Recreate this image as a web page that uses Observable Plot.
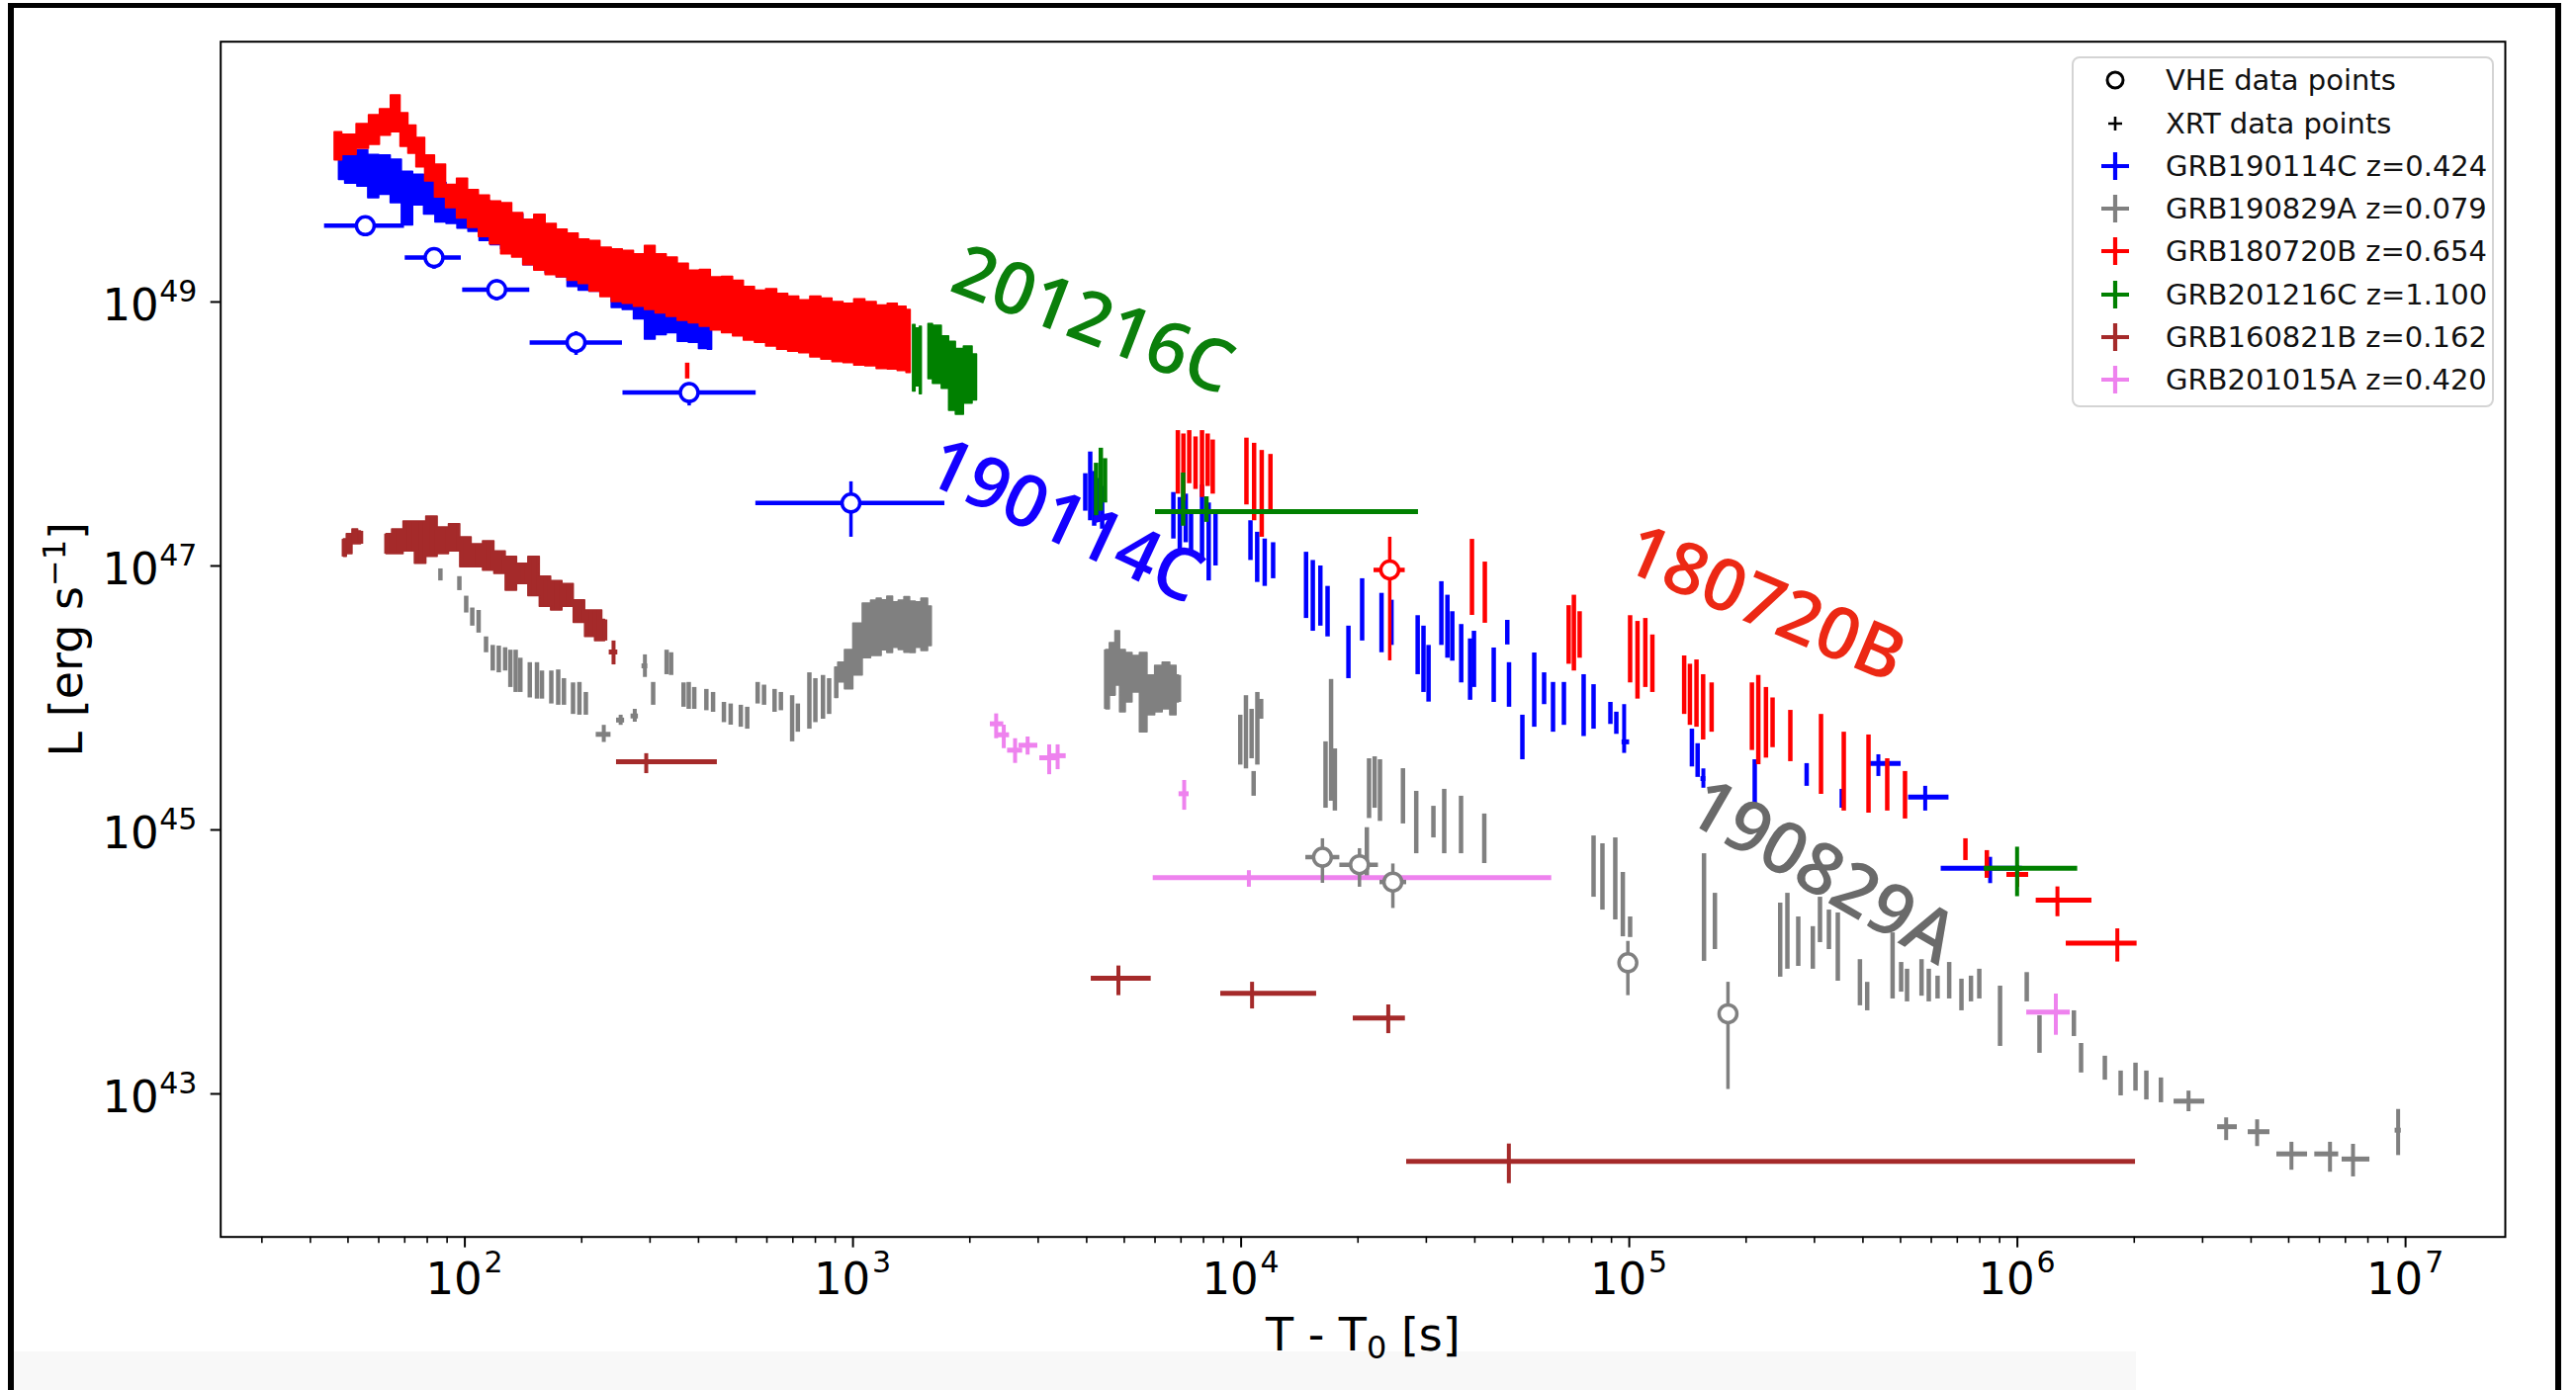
<!DOCTYPE html>
<html>
<head>
<meta charset="utf-8">
<script src="https://cdn.jsdelivr.net/npm/d3@7"></script>
<script src="https://cdn.jsdelivr.net/npm/@observablehq/plot@0.6"></script>
<style>
  html, body { margin: 0; padding: 0; background: #fff; }
  #page { position: relative; width: 2605px; height: 1406px; overflow: hidden; background: #fff; }
  #page svg { position: absolute; left: 0; top: 0; }
  #sheet { position: absolute; left: 8px; top: 3px; width: 2582px; height: 1403px; box-sizing: border-box;
           border-top: 5px solid #000; border-left: 6px solid #000; border-right: 6px solid #000; pointer-events: none; }
  #strip { position: absolute; left: 14px; top: 1367px; width: 2146px; height: 39px; background: #f8f8f8; }
  #legend { position: absolute; left: 2095px; top: 57px; width: 427px; height: 355px; box-sizing: border-box;
            border: 2px solid #d4d4d4; border-radius: 8px; background: rgba(255,255,255,0.85);
            font-family: "DejaVu Sans", sans-serif; font-size: 29px; color: #111; }
  #legend .row { position: absolute; left: 0; height: 40px; width: 100%; }
  #legend .row svg { position: absolute; left: 22px; top: 0; }
  #legend .row span { position: absolute; left: 93px; top: 3px; white-space: nowrap; }
</style>
</head>
<body>
<div id="page">
  <div id="strip"></div>
  <div id="sheet"></div>
</div>
<script>
// ---------- axes ----------
const xTickExponents = [2, 3, 4, 5, 6, 7];      // labelled decades of T - T0 [s]
const yTickExponents = [43, 45, 47, 49];        // labelled decades of L [erg/s]

// ---------- GRB190114C (z = 0.424) ----------
const grb190114C_vhe = [ // t, tLo, tHi, L, LLo, LHi
  [55.4, 43.5, 69.9, 3.78e49, 3.45e49, 4.15e49],
  [83.3, 70.2, 97.9, 2.17e49, 1.77e49, 2.5e49],
  [120.8, 98.7, 147, 1.24e49, 1.02e49, 1.47e49],
  [193.4, 147.3, 254.7, 4.93e48, 3.94e48, 5.96e48],
  [378.4, 255.5, 563, 2.06e48, 1.63e48, 2.44e48],
  [988, 562, 1725, 3.0e47, 1.65e47, 4.34e47]
];
const grb190114C_early = [ // t, LLo, LHi
  [47.4, 8.4e49, 1.37e50], [51, 7.9e49, 1.3e50], [54.8, 7.5e49, 1.41e50], [58, 6.1e49, 1.3e50],
  [62.4, 6.5e49, 1.29e50], [66.5, 5.6e49, 1.2e50], [71.2, 3.8e49, 9.7e49], [76, 5.4e49, 9.2e49],
  [81.1, 4.6e49, 8.6e49], [87, 4.0e49, 8.0e49], [92.5, 3.9e49, 7.3e49], [99, 3.6e49, 6.9e49],
  [105.4, 3.4e49, 6.1e49], [113, 2.9e49, 5.8e49], [120.2, 2.7e49, 5.2e49], [128, 2.5e49, 4.8e49],
  [137, 2.3e49, 4.6e49], [146, 1.9e49, 4.2e49], [156.1, 1.8e49, 3.65e49], [167, 1.65e49, 3.3e49],
  [178, 1.54e49, 2.9e49], [190, 1.3e49, 2.6e49], [203, 1.22e49, 2.3e49], [216, 1.2e49, 2.2e49],
  [231.3, 1.15e49, 1.94e49], [247, 9.0e48, 1.75e49], [263.6, 8.7e48, 1.54e49], [282, 7.4e48, 1.4e49],
  [300.4, 5.2e48, 1.3e49], [320, 5.6e48, 1.25e49], [342.6, 5.8e48, 1.15e49], [365, 5.0e48, 1.05e49],
  [390.5, 4.9e48, 9.7e48], [412, 4.4e48, 9.0e48], [433.5, 4.35e48, 8.2e48]
];
const grb190114C_xrt = [ // t, LLo, LHi
  [3967, 2.6e47, 5.0e47], [4085, 2.2e47, 7.3e47], [4182, 2.0e47, 5.2e47], [4282, 2.2e47, 4.6e47], [4385, 1.9e47, 4.0e47],
  [6690, 1.6e47, 3.6e47], [6950, 1.3e47, 3.3e47], [7200, 1.5e47, 3.5e47], [7430, 1.3e47, 2.6e47],
  [7930, 1.1e47, 4.1e47], [8250, 7.7e46, 3.0e47], [8590, 1.0e47, 2.6e47],
  [10570, 1.1e47, 2.2e47], [11000, 7.5e46, 1.8e47], [11500, 7.0e46, 1.6e47], [12090, 8.0e46, 1.5e47],
  [14700, 4.0e46, 1.27e47], [15300, 3.2e46, 1.1e47], [16000, 3.5e46, 1.0e47], [16700, 2.9e46, 7.0e46],
  [18900, 1.4e46, 3.5e46], [20500, 2.7e46, 8.0e46],
  [23000, 2.2e46, 6.2e46], [24400, 2.5e46, 5.5e46],
  [28500, 1.5e46, 4.2e46], [29500, 1.1e46, 3.5e46], [30400, 9.3e45, 2.5e46],
  [32800, 2.5e46, 7.6e46], [34000, 2.0e46, 6.0e46], [35000, 1.9e46, 4.5e46],
  [36900, 1.3e46, 3.6e46], [38900, 9.6e45, 2.8e46], [39800, 1.2e46, 3.2e46],
  [44750, 9.25e45, 2.39e46], [48500, 2.52e46, 3.87e46], [49000, 8.5e45, 1.85e46],
  [53040, 3.4e45, 7.4e45], [56910, 6.0e45, 2.19e46], [60340, 8.9e45, 1.55e46],
  [63620, 5.5e45, 1.31e46], [67860, 6.2e45, 1.31e46], [76290, 5.1e45, 1.5e46],
  [80910, 5.8e45, 1.26e46], [89410, 6.3e45, 9.25e45], [92610, 5.3e45, 7.8e45],
  [145000, 3.0e45, 5.8e45], [150000, 2.5e45, 4.5e45],
  [210500, 1.46e45, 3.4e45], [286400, 2.14e45, 3.18e45], [352800, 1.46e45, 2.03e45]
];
const grb190114C_binned = [ // t, tLo, tHi, L, LLo, LHi
  [97000, 95800, 100200, 4.65e45, 3.8e45, 8.9e45],
  [155200, 153000, 157500, 2.45e45, 2.07e45, 2.9e45],
  [438300, 412900, 501700, 3.19e45, 2.54e45, 3.71e45],
  [578700, 524400, 666400, 1.77e45, 1.39e45, 2.14e45],
  [850700, 636300, 1.03e6, 5.13e44, 3.92e44, 6.2e44]
];

// ---------- GRB190829A (z = 0.079) ----------
const grb190829A_vhe = [ // t, tLo, tHi, L, LLo, LHi
  [16200, 14680, 17960, 6.21e44, 3.94e44, 8.57e44],
  [20180, 17960, 22580, 5.45e44, 3.68e44, 7.21e44],
  [24600, 22790, 26700, 4.03e44, 2.54e44, 5.52e44],
  [99170, 96400, 102100, 9.86e43, 5.55e43, 1.43e44],
  [179600, 175000, 184000, 4.05e43, 1.08e43, 7.01e43]
];
const grb190829A_rise = [ // t, LLo, LHi
  [900, 1.0e46, 1.7e46], [933, 1.31e46, 1.85e46], [974.5, 1.16e46, 2.31e46], [1030, 1.48e46, 3.66e46],
  [1090, 2.0e46, 5.2e46], [1137, 2.08e46, 5.47e46], [1166, 2.08e46, 5.66e46], [1205, 2.3e46, 5.5e46],
  [1247, 2.19e46, 5.86e46], [1290, 2.4e46, 5.3e46], [1334, 2.31e46, 5.47e46], [1380, 2.2e46, 5.8e46],
  [1427, 2.19e46, 5.37e46], [1475, 2.4e46, 5.3e46], [1527, 2.27e46, 5.66e46], [1596, 2.47e46, 4.93e46]
];
const grb190829A_orbit2 = [ // t, LLo, LHi
  [4490, 8.2e45, 2.31e46], [4692, 1.04e46, 2.6e46], [4797, 1.24e46, 3.2e46], [4957, 7.8e45, 2.31e46],
  [5135, 9.25e45, 2.19e46], [5366, 1.1e46, 2.08e46], [5608, 5.5e45, 2.19e46], [5871, 7.4e45, 1.48e46],
  [6142, 7.8e45, 1.75e46], [6418, 8.2e45, 1.85e46], [6719, 7.4e45, 1.75e46], [6915, 9.25e45, 1.48e46]
];
const grb190829A_xrt = [ // t, LLo, LHi
  [82.1, 1.17e47, 2.37e47], [86.5, 7.7e46, 9.5e46], [96.8, 6.5e46, 8.3e46], [100.8, 4.4e46, 5.9e46],
  [104.5, 3.5e46, 4.8e46], [108.5, 3.1e46, 4.6e46], [113.4, 2.2e46, 2.9e46],
  [118, 1.6e46, 2.5e46], [122.3, 1.55e46, 2.47e46], [127, 1.6e46, 2.4e46],
  [131, 1.2e46, 2.3e46], [135.2, 1.1e46, 2.3e46], [139, 1.1e46, 2.0e46],
  [147, 1.0e46, 1.85e46], [153.4, 9.8e45, 1.85e46], [158, 9.8e45, 1.6e46],
  [167, 9.0e45, 1.6e46], [174, 8.8e45, 1.63e46], [180, 8.8e45, 1.4e46],
  [190, 7.5e45, 1.3e46], [197.3, 7.4e45, 1.31e46], [205, 7.4e45, 1.1e46],
  [305.6, 8.8e45, 1.31e46], [331, 1.5e46, 2.3e46], [340, 1.48e46, 2.2e46],
  [366, 8.5e45, 1.3e46], [377.4, 8.2e45, 1.31e46], [390, 8.2e45, 1.2e46],
  [419, 8.0e45, 1.16e46], [436, 7.78e45, 1.1e46], [465, 6.5e45, 9.25e45], [484, 6.22e45, 9.0e45],
  [514, 6.0e45, 8.8e45], [534, 5.8e45, 8.5e45], [568, 9.0e45, 1.31e46], [590, 8.8e45, 1.25e46],
  [628, 7.78e45, 1.16e46], [652, 8.0e45, 1.1e46], [697, 4.65e45, 1.04e46], [721, 5.5e45, 9.0e45],
  [772, 5.8e45, 1.55e46], [800, 6.5e45, 1.4e46], [837, 6.9e45, 1.48e46], [868, 7.5e45, 1.4e46],
  [9950, 3.1e45, 7.4e45], [10290, 2.9e45, 1.04e46], [10640, 3.46e45, 8.2e45], [10770, 1.8e45, 2.77e45],
  [11010, 3.1e45, 1.1e46], [11260, 6.9e45, 9.75e45],
  [16500, 1.46e45, 4.65e45], [17050, 1.65e45, 1.38e46], [17440, 1.39e45, 4.11e45],
  [21080, 4.37e44, 1.04e45], [21360, 1.22e45, 3.46e45], [22080, 1.46e45, 3.58e45], [22790, 1.16e45, 3.4e45],
  [26120, 1.11e45, 2.91e45], [28260, 6.6e44, 1.96e45], [31290, 8.7e44, 1.51e45],
  [33360, 6.6e44, 2.03e45], [36860, 6.6e44, 1.8e45], [42310, 5.56e44, 1.32e45],
  [80910, 3.09e44, 9.0e44], [85290, 2.47e44, 7.85e44], [92040, 2.08e44, 8.7e44],
  [96250, 1.55e44, 4.76e44], [100500, 1.53e44, 2.19e44],
  [155800, 1.01e44, 6.6e44], [166200, 1.24e44, 3.31e44],
  [244800, 7.66e43, 2.79e44], [255500, 8.8e43, 3.31e44], [272500, 9.25e43, 2.19e44], [297100, 8.8e43, 1.85e44],
  [310000, 1.4e44, 3.09e44], [326900, 1.24e44, 2.47e44], [344600, 7.14e43, 2.35e44],
  [392900, 4.65e43, 1.04e44], [410200, 4.26e43, 7.0e43],
  [476900, 5.24e43, 1.66e44], [501700, 5.9e43, 9.9e43], [519600, 4.98e43, 8.8e43], [566300, 5.5e43, 1.04e44],
  [591100, 4.98e43, 8.8e43], [622800, 5.24e43, 7.8e43], [667200, 5.24e43, 9.9e43], [717500, 4.26e43, 7.4e43],
  [759200, 4.98e43, 7.8e43], [797600, 5.24e43, 8.8e43], [902200, 2.29e43, 6.55e43],
  [1.057e6, 4.98e43, 8.3e43], [1.14e6, 2.03e43, 3.91e43], [1.398e6, 2.72e43, 4.26e43], [1.459e6, 1.44e43, 2.41e43],
  [1.68e6, 1.27e43, 1.93e43], [1.845e6, 9.66e42, 1.49e43], [2.015e6, 1.05e43, 1.71e43],
  [2.149e6, 9.0e42, 1.49e43], [2.343e6, 8.57e42, 1.32e43]
];
const grb190829A_binned = [ // t, tLo, tHi, L, LLo, LHi
  [228, 218, 238, 5.3e45, 4.6e45, 6.2e45],
  [252, 246, 258, 6.8e45, 6.2e45, 7.4e45],
  [274, 268, 280, 7.3e45, 6.55e45, 8.2e45],
  [291, 286, 296, 1.75e46, 1.43e46, 2.12e46],
  [2.76e6, 2.533e6, 3.039e6, 8.81e42, 7.33e42, 1.05e43],
  [3.45e6, 3.28e6, 3.686e6, 5.64e42, 4.43e42, 6.58e42],
  [4.146e6, 3.932e6, 4.474e6, 5.17e42, 3.99e42, 6.36e42],
  [5.082e6, 4.661e6, 5.592e6, 3.51e42, 2.64e42, 4.3e42],
  [6.388e6, 5.836e6, 6.726e6, 3.51e42, 2.55e42, 4.3e42],
  [7.323e6, 6.865e6, 8.093e6, 3.21e42, 2.35e42, 4.15e42],
  [9.57e6, 9.4e6, 9.75e6, 5.31e42, 3.41e42, 7.62e42]
];

// ---------- GRB180720B (z = 0.654) ----------
const grb180720B_vhe = [ // t, tLo, tHi, L, LLo, LHi
  [24150, 22000, 26470, 9.33e46, 1.91e46, 1.65e47]
];
const grb180720B_early = [ // t, LLo, LHi
  [46.2, 1.18e50, 1.93e50], [50.5, 1.3e50, 1.85e50], [54.8, 1.45e50, 2.23e50], [58.5, 1.55e50, 2.6e50],
  [62.4, 1.82e50, 2.89e50], [66.6, 1.93e50, 3.68e50], [70, 1.5e50, 2.7e50], [73.1, 1.33e50, 2.17e50],
  [77, 1.05e50, 1.75e50], [81.1, 8.2e49, 1.29e50], [86.5, 6.2e49, 1.1e50], [92.5, 5.15e49, 7.7e49],
  [98.5, 4.3e49, 8.6e49], [105.4, 3.65e49, 7.06e49], [112, 3.1e49, 6.4e49], [120.2, 2.73e49, 5.78e49],
  [128, 2.3e49, 5.6e49], [137, 2.17e49, 4.72e49], [146, 1.9e49, 4.2e49], [156.1, 1.73e49, 4.58e49],
  [167, 1.6e49, 3.9e49], [178, 1.54e49, 3.54e49], [190, 1.45e49, 3.3e49], [203, 1.37e49, 2.98e49],
  [216, 1.2e49, 2.9e49], [231.3, 1.09e49, 2.58e49], [247, 1.0e49, 2.5e49], [263.6, 9.7e48, 2.44e49],
  [282, 9.2e48, 2.3e49], [300.4, 8.7e48, 2.66e49], [320, 8.2e48, 2.3e49], [342.6, 7.7e48, 2.17e49],
  [365, 7.2e48, 1.95e49], [390.5, 6.9e48, 1.73e49], [416, 6.5e48, 1.75e49], [445, 6.1e48, 1.54e49],
  [475, 5.8e48, 1.55e49], [507.3, 5.5e48, 1.45e49], [540, 5.1e48, 1.3e49], [578.4, 4.9e48, 1.22e49],
  [617, 4.6e48, 1.25e49], [659.4, 4.35e48, 1.15e49], [703, 4.2e48, 1.1e49], [751.4, 4.1e48, 1.03e49],
  [802, 3.8e48, 1.1e49], [856.3, 3.66e48, 1.06e49], [915, 3.5e48, 1.0e49], [976, 3.45e48, 9.7e48],
  [1040, 3.3e48, 1.05e49], [1113, 3.26e48, 1.0e49], [1190, 3.1e48, 9.4e48], [1269, 3.08e48, 9.7e48],
  [1340, 3.0e48, 9.2e48], [1408, 2.9e48, 8.7e48]
];
const grb180720B_xrt = [ // t, LLo, LHi
  [374, 2.61e48, 3.44e48],
  [6870, 3.5e47, 1.06e48], [7100, 3.1e47, 1.0e48], [7350, 4.2e47, 1.06e48], [7630, 3.8e47, 9.5e47],
  [7930, 3.3e47, 1.06e48], [8200, 4.0e47, 1.0e48], [8450, 3.5e47, 9.0e47],
  [10320, 2.9e47, 9.3e47], [10800, 2.2e47, 8.5e47], [11300, 1.65e47, 7.5e47], [11900, 2.5e47, 7.0e47],
  [39330, 4.22e46, 1.59e47], [42450, 3.68e46, 1.07e47],
  [69800, 1.8e46, 5.0e46], [72000, 1.6e46, 6.0e46], [74500, 2.0e46, 4.5e46],
  [100500, 1.3e46, 4.2e46], [105000, 9.8e45, 3.8e46], [110000, 1.2e46, 4.0e46], [114700, 1.1e46, 3.0e46],
  [138500, 7.5e45, 2.08e46], [143300, 6.2e45, 1.8e46],
  [149000, 6.0e45, 1.94e46], [155000, 4.8e45, 1.5e46], [163000, 5.5e45, 1.3e46],
  [207000, 4.0e45, 1.3e46], [215000, 3.12e45, 1.48e46], [225000, 3.5e45, 1.2e46], [234000, 4.2e45, 1.0e46],
  [260000, 3.29e45, 8.05e45], [311900, 1.86e45, 7.5e45], [357000, 1.39e45, 5.5e45],
  [413400, 1.34e45, 5.24e45], [462000, 1.39e45, 3.46e45], [513400, 1.21e45, 2.77e45],
  [734700, 5.86e44, 8.57e44], [834200, 4.3e44, 6.97e44]
];
const grb180720B_binned = [ // t, tLo, tHi, L, LLo, LHi
  [999300, 939700, 1.069e6, 4.6e44, 3.68e44, 5.37e44],
  [1.268e6, 1.118e6, 1.556e6, 2.94e44, 2.2e44, 3.7e44],
  [1.809e6, 1.336e6, 2.034e6, 1.39e44, 9.98e43, 1.78e44]
];

// ---------- GRB201216C (z = 1.100) ----------
const grb201216C_earlyA = [ // t, LLo, LHi
  [1428, 2.1e48, 6.7e48], [1470, 2.3e48, 6.3e48], [1504, 2.0e48, 6.5e48]
];
const grb201216C_earlyB = [ // t, LLo, LHi
  [1565, 2.6e48, 6.8e48], [1650, 2.4e48, 6.6e48], [1738, 2.2e48, 5.5e48], [1800, 1.5e48, 5.0e48],
  [1883, 1.4e48, 4.4e48], [1980, 1.7e48, 4.6e48], [2087, 1.8e48, 4.0e48]
];
const grb201216C_xrt = [ // t, LLo, LHi
  [4230, 2.4e47, 6.0e47], [4350, 2.6e47, 7.8e47], [4460, 3.0e47, 6.5e47],
  [7088, 2.0e47, 5.06e47], [8140, 2.14e47, 3.34e47]
];
const grb201216C_binned = [ // t, tLo, tHi, L, LLo, LHi
  [17300, 6018, 28640, 2.58e47, 2.5e47, 2.66e47],
  [998100, 821000, 1.43e6, 5.13e44, 3.12e44, 7.4e44]
];

// ---------- GRB160821B (z = 0.162) ----------
const grb160821B_earlyA = [ // t, LLo, LHi
  [48.8, 1.17e47, 1.59e47], [50.5, 1.23e47, 1.74e47], [52.2, 1.46e47, 1.89e47], [54, 1.46e47, 1.83e47]
];
const grb160821B_earlyB = [ // t, LLo, LHi
  [62.8, 1.23e47, 1.74e47], [67.2, 1.23e47, 1.89e47], [71.9, 1.29e47, 2.17e47], [76.9, 1.04e47, 2.17e47],
  [82.3, 1.17e47, 2.37e47], [88, 1.23e47, 1.96e47], [94.1, 1.29e47, 2.07e47], [100.6, 9.8e46, 1.65e47],
  [107.7, 9.8e46, 1.46e47], [115.2, 9.2e46, 1.54e47], [123.2, 8.7e46, 1.29e47], [131.8, 6.5e46, 1.17e47],
  [140.9, 7.3e46, 1.04e47], [150.8, 5.9e46, 1.17e47], [161.3, 4.9e46, 8.3e46], [172.5, 4.6e46, 7.7e46],
  [184.5, 4.9e46, 7.3e46], [197.3, 3.7e46, 5.5e46], [211.1, 2.9e46, 4.6e46], [222.1, 2.7e46, 4.6e46],
  [229.8, 2.7e46, 3.9e46]
];
const grb160821B_binned = [ // t, tLo, tHi, L, LLo, LHi
  [241.6, 235.5, 247.8, 2.23e46, 1.78e46, 2.7e46],
  [293.3, 245.9, 447.2, 3.29e45, 2.67e45, 3.78e45],
  [4828, 4110, 5866, 7.52e43, 5.55e43, 9.31e43],
  [10670, 8862, 15650, 5.78e43, 4.4e43, 7.01e43],
  [23940, 19450, 26500, 3.76e43, 2.86e43, 4.72e43],
  [48950, 26700, 2.015e6, 3.08e42, 2.09e42, 4.17e42]
];

// ---------- GRB201015A (z = 0.420) ----------
const grb201015A_binned = [ // t, tLo, tHi, L, LLo, LHi
  [2338, 2259, 2446, 6.37e45, 4.91e45, 7.57e45],
  [2446, 2364, 2531, 5.26e45, 4.13e45, 6.22e45],
  [2616, 2502, 2736, 4.02e45, 3.19e45, 4.91e45],
  [2818, 2677, 2994, 4.38e45, 3.69e45, 5.06e45],
  [3203, 3029, 3386, 3.52e45, 2.62e45, 4.41e45],
  [3367, 3238, 3542, 3.65e45, 2.86e45, 4.41e45],
  [7133, 6918, 7345, 1.88e45, 1.41e45, 2.37e45],
  [10470, 5936, 63130, 4.35e44, 3.68e44, 4.91e44],
  [1.256e6, 1.057e6, 1.368e6, 4.16e43, 2.78e43, 5.71e43]
];

// ---------- burst names written along the curves ----------
const curveLabels = [ // name, t, L, angle, colour
  ["201216C", 4147, 7.2e48, 21, "#0b7f0b"],
  ["190114C", 3508, 2.17e47, 25, "#1400ff"],
  ["180720B", 2.232e5, 5.1e46, 23, "#ec2814"],
  ["190829A", 3.138e5, 4.76e44, 30, "#6a6a6a"]
];

// ---------- legend ----------
const legendEntries = [ // label, marker, colour
  ["VHE data points", "circle", "#000"],
  ["XRT data points", "plus", "#000"],
  ["GRB190114C z=0.424", "cross", "#0000ff"],
  ["GRB190829A z=0.079", "cross", "#808080"],
  ["GRB180720B z=0.654", "cross", "#ff0000"],
  ["GRB201216C z=1.100", "cross", "#008000"],
  ["GRB160821B z=0.162", "cross", "#a52a2a"],
  ["GRB201015A z=0.420", "cross", "#ee82ee"]
];

// ---------- helpers ----------
const asBars = rows => rows.map(([t, lo, hi]) => ({t, lo, hi}));
const asBinned = rows => rows.map(([t, tLo, tHi, L, lo, hi]) => ({t, tLo, tHi, L, lo, hi}));

function burstMarks({color, bands = [], bars = [], binned = []}) {
  const marks = [];
  for (const band of bands) {
    marks.push(Plot.areaY(asBars(band), {x: "t", y1: "lo", y2: "hi", fill: color, stroke: color,
      strokeWidth: 1.5, curve: "step"}));
  }
  marks.push(Plot.ruleX(asBars(bars), {x: "t", y1: "lo", y2: "hi", stroke: color, strokeWidth: 4.5}));
  const b = asBinned(binned);
  marks.push(Plot.ruleX(b, {x: "t", y1: "lo", y2: "hi", stroke: color, strokeWidth: 4}));
  marks.push(Plot.ruleY(b, {y: "L", x1: "tLo", x2: "tHi", stroke: color, strokeWidth: 5}));
  return marks;
}
function vheMarks(rows, color) {
  const v = asBinned(rows);
  return [
    Plot.ruleX(v, {x: "t", y1: "lo", y2: "hi", stroke: color, strokeWidth: 3.5}),
    Plot.ruleY(v, {y: "L", x1: "tLo", x2: "tHi", stroke: color, strokeWidth: 4.5}),
    Plot.dot(v, {x: "t", y: "L", r: 9, fill: "white", stroke: color, strokeWidth: 3.5})
  ];
}

const minorTicks = [];
for (let k = 1; k <= 7; k++) for (let m = 2; m <= 9; m++) {
  const v = m * 10 ** k;
  if (v > 10 ** 1.371 && v < 10 ** 7.257) minorTicks.push(v);
}

const tickFont = "DejaVu Sans, sans-serif";
const labelFont = "Open Sans, sans-serif";
const xTitleText = "T - T0 [s]";
const yTitleText = "L [erg s-1]";

const chart = Plot.plot({
  width: 2605,
  height: 1406,
  marginLeft: 222.7,
  marginRight: 72,
  marginTop: 41.7,
  marginBottom: 155.3,
  style: {background: "transparent", fontFamily: tickFont, color: "#000", overflow: "visible"},
  x: {type: "log", domain: [10 ** 1.371, 10 ** 7.257]},
  y: {type: "log", domain: [10 ** 41.916, 10 ** 50.972]},
  marks: [
    ...burstMarks({color: "#0000ff", bands: [grb190114C_early], bars: grb190114C_xrt, binned: grb190114C_binned}),
    ...burstMarks({color: "#808080", bands: [grb190829A_rise, grb190829A_orbit2], bars: [...grb190829A_xrt, ...grb190829A_orbit2], binned: grb190829A_binned}),
    ...burstMarks({color: "#ff0000", bands: [grb180720B_early], bars: grb180720B_xrt, binned: grb180720B_binned}),
    ...burstMarks({color: "#008000", bands: [grb201216C_earlyA, grb201216C_earlyB], bars: grb201216C_xrt, binned: grb201216C_binned}),
    ...burstMarks({color: "#a52a2a", bands: [grb160821B_earlyA, grb160821B_earlyB], bars: [...grb160821B_earlyA, ...grb160821B_earlyB], binned: grb160821B_binned}),
    ...burstMarks({color: "#ee82ee", binned: grb201015A_binned}),
    ...vheMarks(grb190114C_vhe, "#0000ff"),
    ...vheMarks(grb180720B_vhe, "#ff0000"),
    ...vheMarks(grb190829A_vhe, "#808080"),
    ...curveLabels.map(([name, t, L, angle, color]) =>
      Plot.text([{name, t, L}], {x: "t", y: "L", text: "name", rotate: angle, fill: color,
        fontSize: 73, fontWeight: 600, fontFamily: labelFont, textAnchor: "middle", lineAnchor: "middle"})),
    Plot.frame({stroke: "#000", strokeWidth: 2}),
    Plot.axisX(xTickExponents.map(e => 10 ** e), {tickSize: 11, strokeWidth: 2, tickFormat: () => "", label: null}),
    Plot.axisX(minorTicks, {tickSize: 6.5, strokeWidth: 1.6, tickFormat: () => "", label: null}),
    Plot.axisY(yTickExponents.map(e => 10 ** e), {tickSize: 10, strokeWidth: 2, tickFormat: () => "", label: null}),
    Plot.text(xTickExponents, {x: e => 10 ** e, text: () => "10", frameAnchor: "bottom", textAnchor: "end",
      lineAnchor: "bottom", dx: 17.6, dy: 57.6, fontSize: 45, fill: "#000"}),
    Plot.text(xTickExponents, {x: e => 10 ** e, text: e => String(e), frameAnchor: "bottom", textAnchor: "start",
      lineAnchor: "bottom", dx: 19.5, dy: 36, fontSize: 30, fill: "#000"}),
    Plot.text(yTickExponents, {y: e => 10 ** e, text: () => "10", frameAnchor: "left", textAnchor: "end",
      lineAnchor: "bottom", dx: -62.5, dy: 18.3, fontSize: 45, fill: "#000"}),
    Plot.text(yTickExponents, {y: e => 10 ** e, text: e => String(e), frameAnchor: "left", textAnchor: "start",
      lineAnchor: "bottom", dx: -62, dy: 0, fontSize: 30, fill: "#000"}),
    Plot.text([xTitleText], {frameAnchor: "bottom", text: d => d, textAnchor: "middle", lineAnchor: "bottom",
      dy: 115, fontSize: 46, fill: "#000"}),
    Plot.text([yTitleText], {frameAnchor: "left", text: d => d, rotate: -90, textAnchor: "middle", lineAnchor: "bottom",
      dx: -140, fontSize: 46, fill: "#000"})
  ]
});
document.getElementById("page").insertBefore(chart, document.getElementById("sheet"));

// axis titles: turn the plain strings into subscript / superscript runs
const svgTexts = d3.select(chart).selectAll("text");
svgTexts.filter(function () { return this.textContent === xTitleText; }).each(function () {
  const t = d3.select(this);
  t.text(null);
  t.append("tspan").text("T - T");
  t.append("tspan").attr("font-size", 32).attr("dy", 8).text("0");
  t.append("tspan").attr("dy", -8).text(" [s]");
});
svgTexts.filter(function () { return this.textContent === yTitleText; }).each(function () {
  const t = d3.select(this);
  t.text(null);
  t.append("tspan").text("L [erg s");
  t.append("tspan").attr("font-size", 32).attr("dy", -17).text("\u22121");
  t.append("tspan").attr("dy", 17).text("]");
});

// legend box
const legend = document.createElement("div");
legend.id = "legend";
const rowCentres = [79, 122.5, 166, 209, 252, 296, 339, 382];
legendEntries.forEach(([label, marker, color], i) => {
  const row = document.createElement("div");
  row.className = "row";
  row.style.top = (rowCentres[i] - 57 - 20) + "px";
  let glyph;
  if (marker === "circle") glyph = `<circle cx="20" cy="20" r="8" fill="none" stroke="${color}" stroke-width="3"/>`;
  else if (marker === "plus") glyph = `<path d="M13 20H27M20 13V27" stroke="${color}" stroke-width="2.6"/>`;
  else glyph = `<path d="M6 20H34M20 6V34" stroke="${color}" stroke-width="4.2"/>`;
  row.innerHTML = `<svg width="40" height="40">${glyph}</svg><span>${label}</span>`;
  legend.appendChild(row);
});
document.getElementById("page").appendChild(legend);
</script>
</body>
</html>
